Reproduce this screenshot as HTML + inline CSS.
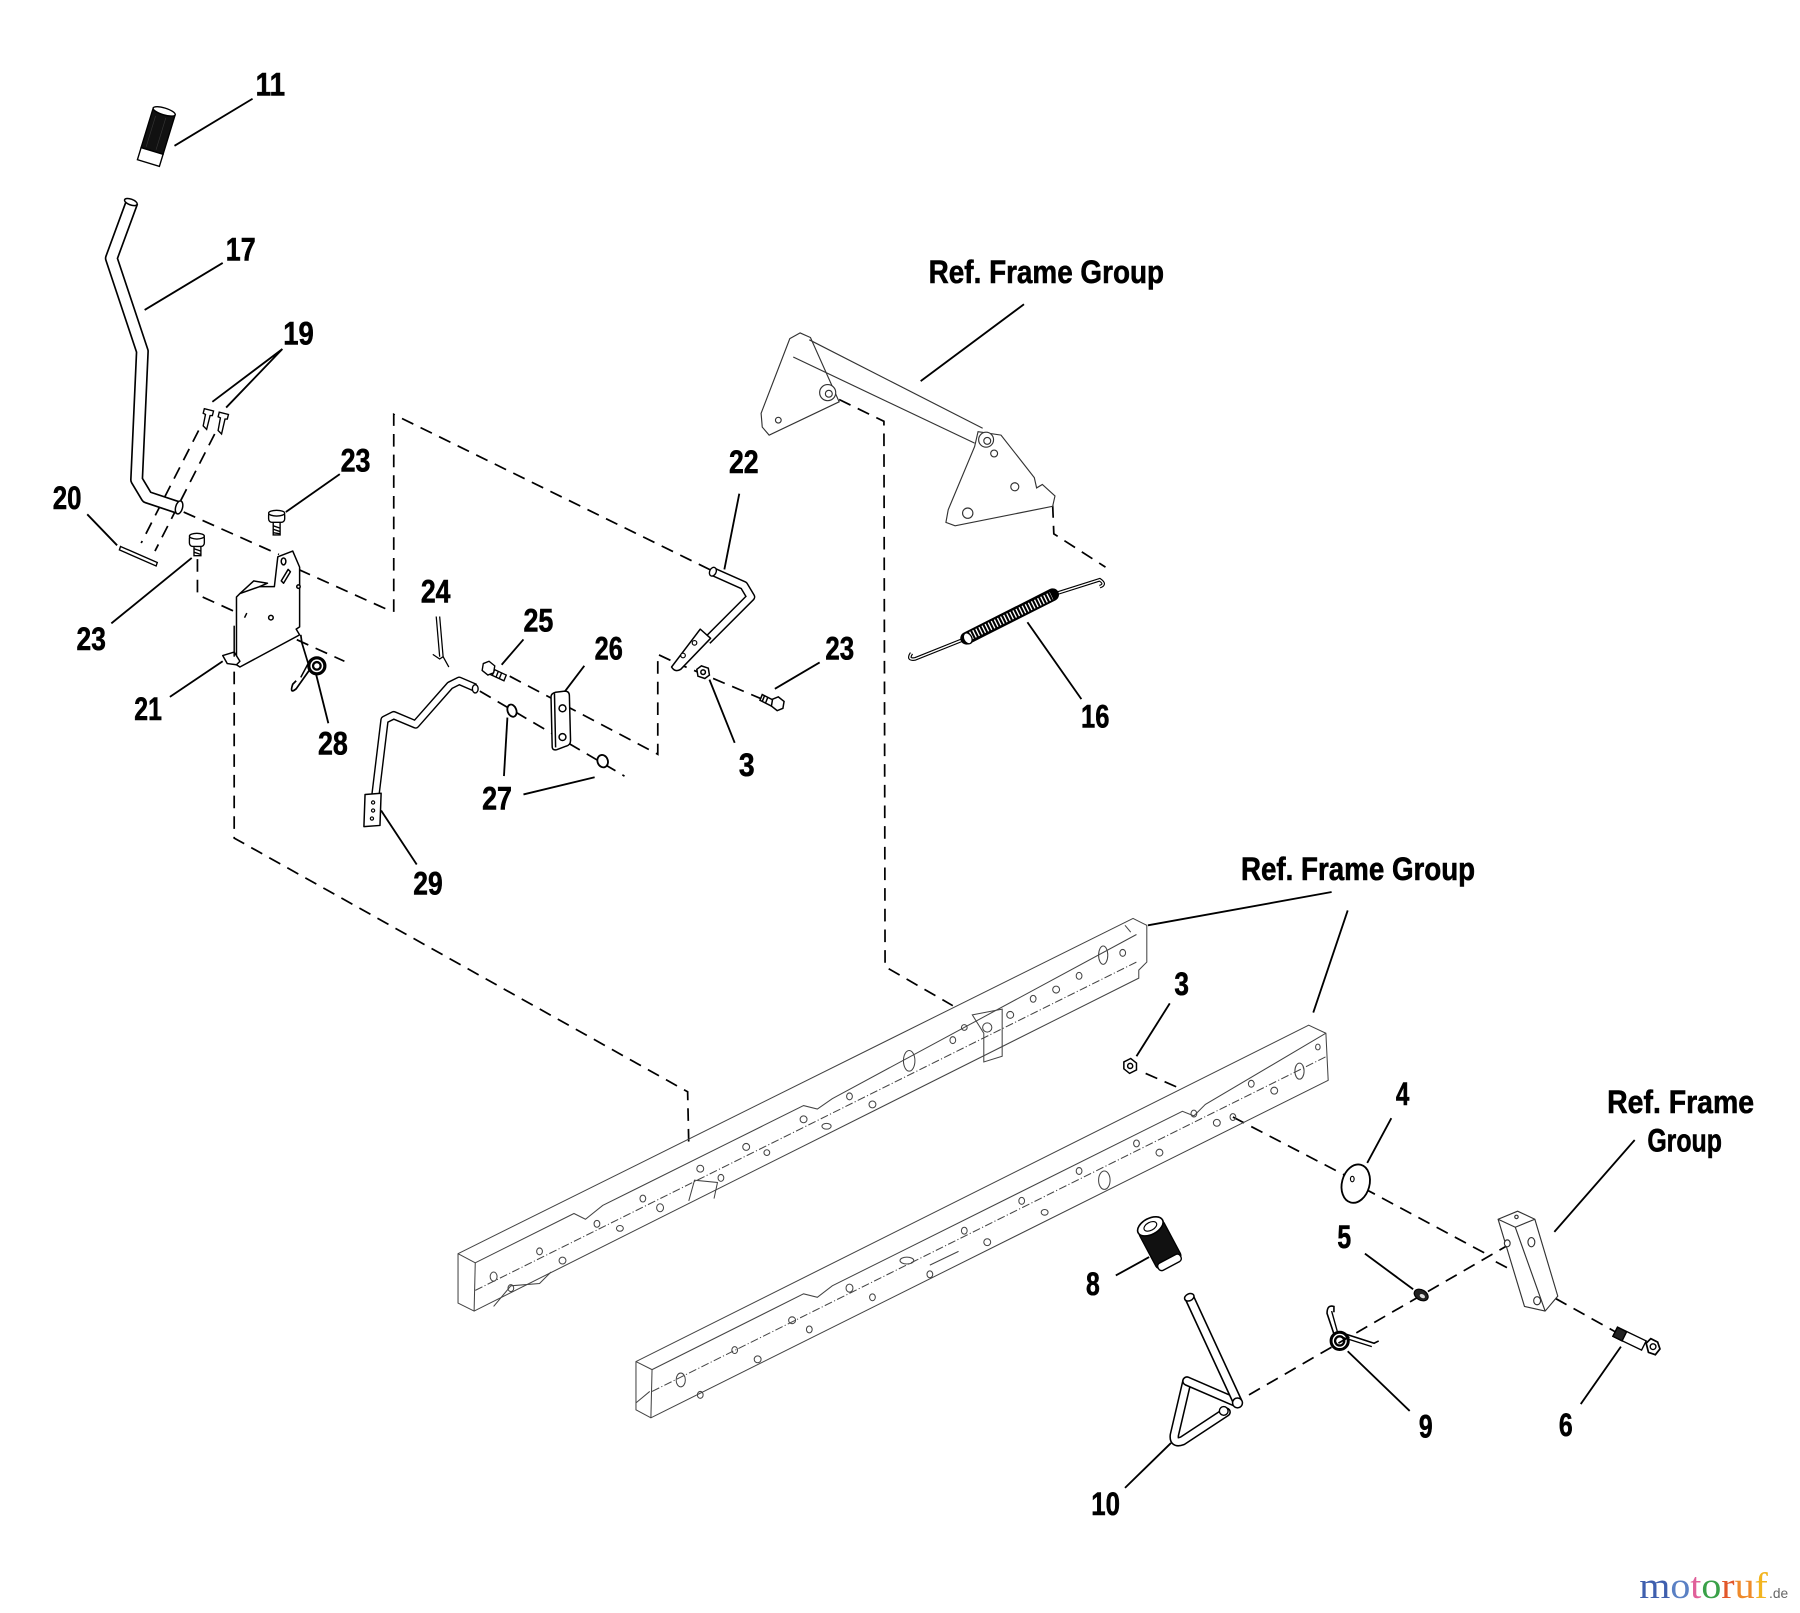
<!DOCTYPE html>
<html><head><meta charset="utf-8">
<style>
html,body{margin:0;padding:0;background:#fff;}
svg{display:block;}
.lb{font-family:"Liberation Sans",Arial,sans-serif;font-weight:bold;font-size:28px;fill:#000;stroke:#000;stroke-width:0.5px;}
</style></head><body>
<svg xmlns="http://www.w3.org/2000/svg" width="1800" height="1613" viewBox="0 0 1568 1405" preserveAspectRatio="none">
<rect x="0" y="0" width="1568" height="1405" fill="#fff"/>

<!-- ===== DASHED LINES ===== -->
<g fill="none" stroke="#000" stroke-width="1.5" stroke-dasharray="11 7">
<path d="M173,375 L123,473"/>
<path d="M187,378 L135,480"/>
<path d="M160,446 L243,483"/>
<path d="M260,496 L342,533"/>
<path d="M343,533 L343,361 L620,497"/>
<path d="M172,487 L172,518 L300,576"/>
<path d="M204,585 L204,730 L599,951 L600,997"/>
<path d="M731,348 L770,367 L771,842 L830,876"/>
<path d="M917,440 L918,465 L963,494"/>
<path d="M444,589 L573,657 L573,570 L588,577"/>
<path d="M418,602 L544,676"/>
<path d="M588,577 L664,609"/>
<path d="M998,935 L1030,949"/>
<path d="M1074,973 L1178,1027"/>
<path d="M1188,1035 L1298,1094"/>
<path d="M1088,1215 L1313,1085"/>
<path d="M1303,1099 L1318,1107"/>
<path d="M1355,1131 L1407,1160"/>
</g>

<!-- ===== LEADER LINES ===== -->
<g fill="none" stroke="#000" stroke-width="1.6">
<path d="M152,127 L220,86"/>
<path d="M126,270 L194,229"/>
<path d="M246,304 L185,350 M246,304 L197,355"/>
<path d="M76,448 L102,475"/>
<path d="M296,413 L249,446"/>
<path d="M97,543 L167,486"/>
<path d="M148,607 L194,576"/>
<path d="M275,586 L286,630"/>
<path d="M644,430 L631,496"/>
<path d="M456,557 L437,579"/>
<path d="M509,580 L490,605"/>
<path d="M439,676 L442,625"/>
<path d="M456,692 L518,677"/>
<path d="M332,706 L363,753"/>
<path d="M618,592 L640,647"/>
<path d="M714,577 L675,600"/>
<path d="M895,542 L942,609"/>
<path d="M892,265 L802,332"/>
<path d="M1160,777 L1000,806"/>
<path d="M1174,793 L1144,882"/>
<path d="M1019,874 L990,920"/>
<path d="M1212,974 L1191,1013"/>
<path d="M1189,1092 L1231,1123"/>
<path d="M972,1111 L1001,1095"/>
<path d="M1174,1177 L1228,1229"/>
<path d="M1412,1173 L1377,1223"/>
<path d="M1020,1257 L980,1296"/>
<path d="M1424,993 L1354,1073"/>
</g>

<!-- ===== FRAME RAILS ===== -->
<g fill="none" stroke="#444" stroke-width="0.9">
<path d="M399,1092 L987,800 L999,806 L999,838 L992,845 L992,852 L413,1142 L399,1135 Z"/>
<path d="M399,1092 L414,1100 L500,1057 L510,1062 L525,1050 L700,963 L712,966 L725,957 L990,814"/>
<path d="M414,1100 L413,1142"/>
<path d="M414,1124 L990,838" stroke-dasharray="7 2 1 2"/>
<path d="M430,1138 L445,1120 L470,1118 L480,1108" />
<path d="M600,1046 L605,1028 L625,1030 L622,1044"/>
<path d="M847,884 L873,879 L873,920 L857,925 L857,900 Z"/>
<path d="M980,806 L985,812" />
<path d="M554,1186 L1140,893 L1155,900 L1157,941 L567,1235 L554,1228 Z"/>
<path d="M554,1186 L568,1193 L700,1127 L712,1130 L725,1120 L1030,968 L1040,972 L1050,962 L1155,900"/>
<path d="M568,1193 L567,1235"/>
<path d="M568,1212 L1156,920" stroke-dasharray="7 2 1 2"/>
<path d="M554,1222 L566,1212"/>
<path d="M810,1102 L835,1090"/>
</g>
<g fill="none" stroke="#444" stroke-width="0.9">
<ellipse cx="430" cy="1112" rx="3" ry="4"/><ellipse cx="445" cy="1122" rx="2.5" ry="3"/>
<ellipse cx="470" cy="1090" rx="2.5" ry="3"/><ellipse cx="490" cy="1098" rx="3" ry="3"/>
<ellipse cx="520" cy="1066" rx="2.5" ry="3"/><ellipse cx="540" cy="1070" rx="3" ry="2.5"/>
<ellipse cx="560" cy="1044" rx="2.5" ry="3"/><ellipse cx="575" cy="1052" rx="3" ry="3.5"/>
<ellipse cx="610" cy="1018" rx="3" ry="3"/><ellipse cx="628" cy="1026" rx="2.5" ry="3"/>
<ellipse cx="650" cy="999" rx="3" ry="3"/><ellipse cx="668" cy="1004" rx="2.5" ry="2.5"/>
<ellipse cx="700" cy="975" rx="3" ry="3"/><ellipse cx="720" cy="981" rx="4" ry="2.5"/>
<ellipse cx="740" cy="955" rx="2.5" ry="3"/><ellipse cx="760" cy="962" rx="3" ry="3"/>
<ellipse cx="792" cy="924" rx="5" ry="9"/>
<ellipse cx="830" cy="906" rx="2.5" ry="3"/><ellipse cx="840" cy="895" rx="2.5" ry="2.5"/>
<ellipse cx="880" cy="884" rx="3" ry="3"/><ellipse cx="900" cy="870" rx="2.5" ry="3"/>
<ellipse cx="920" cy="862" rx="3" ry="3"/><ellipse cx="940" cy="850" rx="2.5" ry="3"/>
<ellipse cx="961" cy="832" rx="4" ry="8"/><ellipse cx="978" cy="830" rx="2.5" ry="3"/>
<ellipse cx="860" cy="895" rx="4" ry="4"/>
<ellipse cx="593" cy="1202" rx="4" ry="6"/><ellipse cx="610" cy="1215" rx="2.5" ry="3"/>
<ellipse cx="640" cy="1176" rx="2.5" ry="3"/><ellipse cx="660" cy="1184" rx="3" ry="3"/>
<ellipse cx="690" cy="1150" rx="3" ry="3"/><ellipse cx="705" cy="1158" rx="2.5" ry="3"/>
<ellipse cx="740" cy="1122" rx="3" ry="3.5"/><ellipse cx="760" cy="1130" rx="2.5" ry="3"/>
<ellipse cx="790" cy="1098" rx="6" ry="3"/><ellipse cx="810" cy="1110" rx="2.5" ry="3"/>
<ellipse cx="840" cy="1072" rx="2.5" ry="3"/><ellipse cx="860" cy="1082" rx="3" ry="3"/>
<ellipse cx="890" cy="1046" rx="2.5" ry="3"/><ellipse cx="910" cy="1056" rx="3" ry="2.5"/>
<ellipse cx="940" cy="1020" rx="2.5" ry="3"/>
<ellipse cx="962" cy="1028" rx="5" ry="8"/>
<ellipse cx="990" cy="996" rx="2.5" ry="3"/><ellipse cx="1010" cy="1004" rx="3" ry="3"/>
<ellipse cx="1040" cy="970" rx="2.5" ry="3"/><ellipse cx="1060" cy="978" rx="3" ry="3"/>
<ellipse cx="1074" cy="973" rx="2.5" ry="3"/>
<ellipse cx="1090" cy="944" rx="2.5" ry="3"/><ellipse cx="1110" cy="950" rx="3" ry="3"/>
<ellipse cx="1132" cy="933" rx="4" ry="7"/><ellipse cx="1148" cy="912" rx="2" ry="2.5"/>
</g>

<!-- ===== TOP FRAME BRACKET ===== -->
<g fill="#fff" stroke="#333" stroke-width="1">
<path d="M688,295 L697,290 L706,294 L731,350 L670,379 L664,372 L663,360 Z"/>
<path d="M852,376 L872,379 L901,416 L903,425 L908,422 L919,432 L917,441 L832,458 L824,455 L826,444 L849,389 Z"/>
</g>
<g fill="none" stroke="#333" stroke-width="1">
<path d="M705,296 L856,373"/>
<path d="M691,311 L849,386"/>
<circle cx="859" cy="383" r="6.5" fill="#fff"/>
<circle cx="860" cy="384" r="3"/>
<circle cx="721" cy="342" r="7" fill="#fff"/>
<circle cx="722" cy="343" r="3"/>
<circle cx="678" cy="366" r="2.5"/>
<circle cx="884" cy="424" r="3.5"/>
<circle cx="843" cy="447" r="4.5"/>
<circle cx="866" cy="395" r="3"/>
</g>

<!-- ===== SPRING 16 ===== -->
<g fill="none">
<path d="M794,569 Q790,575 797,574 L842,556" stroke="#000" stroke-width="3.2"/>
<path d="M794,569 Q790,575 797,574 L842,556" stroke="#fff" stroke-width="1.2"/>
<path d="M917,518 L958,505 Q964,509 958,511" stroke="#000" stroke-width="3.2"/>
<path d="M917,518 L958,505 Q964,509 958,511" stroke="#fff" stroke-width="1.2"/>
<path d="M842,556 L917,518" stroke="#000" stroke-width="11" stroke-linecap="round"/>
<path d="M843,555 L916,519" stroke="#fff" stroke-width="7" stroke-dasharray="1.2 1.8"/>
<ellipse cx="843" cy="556" rx="3.5" ry="5" fill="#fff" stroke="#000" stroke-width="1.2" transform="rotate(-27 843 556)"/>
</g>

<!-- ===== LEVER 17 ===== -->
<g fill="none" stroke-linejoin="round">
<path d="M115,176 L97,225 L124,306 L119,418 L128,433 L155,442" stroke="#000" stroke-width="11.5"/>
<path d="M115,176 L97,225 L124,306 L119,418 L128,433 L155,442" stroke="#fff" stroke-width="8.6"/>
<ellipse cx="114" cy="176" rx="5.8" ry="2.5" fill="#fff" stroke="#000" stroke-width="1.3" transform="rotate(20 114 176)"/>
<ellipse cx="156" cy="442" rx="3" ry="5.8" fill="#fff" stroke="#000" stroke-width="1.3" transform="rotate(15 156 442)"/>
</g>

<!-- ===== GRIP 11 ===== -->
<g transform="translate(136,120) rotate(17)">
<rect x="-10" y="-24" width="20" height="36" fill="#111" stroke="#000" stroke-width="1.2"/>
<rect x="-10" y="12" width="20" height="11" fill="#fff" stroke="#000" stroke-width="1.2"/>
<ellipse cx="0" cy="-24" rx="10" ry="3" fill="#fff" stroke="#000" stroke-width="1.2"/>
<path d="M-6,-18 L-6,10 M3,-19 L3,10" stroke="#333" stroke-width="0.6"/>
</g>

<!-- ===== PINS 19, ROD 20 ===== -->
<g fill="#fff" stroke="#000" stroke-width="1.2">
<path d="M178,356 L186,358 L185,362 L183,362 L180,374 L177,371 L179,361 L177,360 Z"/>
<path d="M191,359 L199,361 L198,365 L196,365 L193,378 L190,375 L192,364 L190,363 Z"/>
<path d="M105,476 L137,490 L136,493 L104,479 Z"/>
</g>

<!-- ===== BOLTS 23 ===== -->
<g stroke="#000" stroke-width="1.2" fill="#fff">
<path d="M238,455 L238,466 L244,466 L244,455"/>
<path d="M238,458 L244,460 M238,461 L244,463 M238,464 L244,465" fill="none"/>
<rect x="234" y="446" width="14" height="9" rx="3"/>
<ellipse cx="241" cy="447" rx="7" ry="2.5"/>
<path d="M169,476 L169,484 L175,484 L175,476"/>
<path d="M169,478 L175,480 M169,481 L175,483" fill="none"/>
<rect x="165" y="466" width="13" height="10" rx="3"/>
<ellipse cx="171.5" cy="467" rx="6.5" ry="2.5"/>
</g>

<!-- ===== BRACKET 21 ===== -->
<g fill="#fff" stroke="#000" stroke-width="1.3" stroke-linejoin="round">
<path d="M206,520 L209,517 L226,511 L239,511 L242,485 L255,480 L261,494 L261,546 L258,548 L261,553 L209,581 L206,579 Z"/>
<path d="M209,517 L221,506 L233,508 L226,511" fill="none"/>
<path d="M194,571 L204,568 L209,576 L206,579 L198,578 Z"/>
<path d="M204,545 L204,572" fill="none"/>
<ellipse cx="247" cy="489" rx="2" ry="3"/>
<path d="M245,506 L251,496 L253,498 L247,508 Z"/>
<circle cx="236" cy="538" r="2"/>
<path d="M215,534 L213,538" fill="none"/>
<circle cx="260" cy="511" r="1.5"/>
</g>

<!-- ===== SPRING 28 ===== -->
<g fill="none" stroke="#000">
<path d="M262,553 L263,560 L270,583 L258,600 Q252,605 255,596 L258,593" stroke-width="1.5"/>
<circle cx="276" cy="580" r="7" stroke-width="2.8"/>
<circle cx="276" cy="580" r="3.3" stroke-width="2"/>
<path d="M270,575 L262,590" stroke-width="1.3"/>
</g>

<!-- ===== PART 24 cotter ===== -->
<g fill="none" stroke="#000" stroke-width="1.1">
<path d="M380,537 L383,572 M383,537 L386,572"/>
<path d="M377,570 L383,574 L386,572 L391,581"/>
</g>

<!-- ===== BOLT 25 ===== -->
<g stroke="#000" stroke-width="1.2" fill="#fff">
<path d="M428,582 L441,588 L439,593 L426,587 Z"/>
<path d="M431,583 L429,588 M434,585 L432,590 M437,586 L435,591" fill="none"/>
<path d="M421,578 L426,576 L431,580 L430,586 L425,588 L420,584 Z"/>
</g>

<!-- ===== PLATE 26 ===== -->
<g fill="#fff" stroke="#000" stroke-width="1.3" stroke-linejoin="round">
<path d="M480,607 Q480,604 484,603 L492,602 Q496,602 496,606 L497,645 Q497,649 493,650 L485,653 Q481,654 481,650 Z"/>
<path d="M483,604 L484,651" fill="none"/>
<circle cx="490" cy="617" r="3"/>
<circle cx="490" cy="642" r="3"/>
</g>

<!-- ===== WASHERS 27 ===== -->
<g fill="#fff" stroke="#000" stroke-width="1.6">
<ellipse cx="446" cy="619" rx="3.8" ry="5.5" transform="rotate(-20 446 619)"/>
<ellipse cx="525" cy="663" rx="4.5" ry="5.5" transform="rotate(-20 525 663)"/>
</g>

<!-- ===== ROD 29 ===== -->
<g fill="none" stroke-linejoin="round">
<path d="M414,599 L400,593 L392,597 L362,631 L343,623 L335,627 L327,693" stroke="#000" stroke-width="7.5"/>
<path d="M414,599 L400,593 L392,597 L362,631 L343,623 L335,627 L327,693" stroke="#fff" stroke-width="5"/>
<ellipse cx="414" cy="600" rx="2.5" ry="3.6" fill="#fff" stroke="#000" stroke-width="1.2"/>
<path d="M318,692 L332,691 L331,719 L317,720 Z" fill="#fff" stroke="#000" stroke-width="1.3"/>
<circle cx="325" cy="699" r="1.4" fill="#fff" stroke="#000"/>
<circle cx="325" cy="706" r="1.4" fill="#fff" stroke="#000"/>
<circle cx="324" cy="713" r="1.4" fill="#fff" stroke="#000"/>
</g>

<!-- ===== ROD 22 ===== -->
<g fill="none" stroke-linejoin="round">
<path d="M621,498 L648,510 L654,520 L616,558" stroke="#000" stroke-width="8"/>
<path d="M621,498 L648,510 L654,520 L616,558" stroke="#fff" stroke-width="5.4"/>
<ellipse cx="621" cy="498" rx="2.8" ry="4" fill="#fff" stroke="#000" stroke-width="1.2" transform="rotate(25 621 498)"/>
<path d="M610,548 L619,556 L593,583 Q588,586 585,581 Z" fill="#fff" stroke="#000" stroke-width="1.3"/>
<circle cx="605" cy="560" r="2" fill="#fff" stroke="#000"/>
<circle cx="595" cy="571" r="2" fill="#fff" stroke="#000"/>
</g>

<!-- ===== NUT 3 upper, BOLT 23 right ===== -->
<g stroke="#000" stroke-width="1.3" fill="#fff">
<path d="M607,583 L611,580 L617,582 L618,588 L614,591 L608,589 Z"/>
<circle cx="612.5" cy="585.5" r="2"/>
<path d="M664,605 L674,610 L672,615 L662,610 Z"/>
<path d="M666,606 L664,611 M669,607 L667,612" fill="none"/>
<path d="M673,609 L678,607 L683,611 L682,617 L677,619 L672,615 Z"/>
</g>

<!-- ===== NUT 3 lower ===== -->
<g stroke="#000" stroke-width="1.3" fill="#fff">
<path d="M979,925 L985,922 L990,926 L990,932 L984,935 L979,931 Z"/>
<circle cx="984.5" cy="928.5" r="2.2"/>
</g>

<!-- ===== WASHER 4 ===== -->
<ellipse cx="1181" cy="1031" rx="12" ry="17" transform="rotate(15 1181 1031)" fill="#fff" stroke="#000" stroke-width="1.6"/>
<ellipse cx="1178" cy="1027" rx="1.6" ry="2.4" fill="#fff" stroke="#000" stroke-width="1"/>

<!-- ===== WASHER 5 ===== -->
<ellipse cx="1238" cy="1128" rx="6.5" ry="4.5" transform="rotate(30 1238 1128)" fill="#222" stroke="#000" stroke-width="1"/>
<ellipse cx="1239" cy="1129" rx="2.5" ry="1.6" transform="rotate(30 1239 1129)" fill="#ddd"/>

<!-- ===== SPRING 9 ===== -->
<g fill="none" stroke="#000">
<path d="M1162,1162 L1156,1144 Q1156,1136 1162,1138 L1162,1143" stroke-width="1.4"/>
<path d="M1165,1160 L1160,1142" stroke-width="1.2"/>
<path d="M1172,1162 L1197,1170 L1201,1168" stroke-width="1.4"/>
<path d="M1170,1165 L1195,1173" stroke-width="1.2"/>
<circle cx="1167" cy="1168" r="7.5" stroke-width="2.6"/>
<circle cx="1167" cy="1168" r="4" stroke-width="2"/>
</g>

<!-- ===== REF FRAME BRACKET (right) ===== -->
<g fill="#fff" stroke="#333" stroke-width="1" stroke-linejoin="round">
<path d="M1305,1062 L1322,1055 L1337,1062 L1357,1129 L1346,1142 L1328,1138 Z"/>
<path d="M1305,1062 L1320,1069 L1337,1062 M1320,1069 L1346,1142" fill="none"/>
<ellipse cx="1313" cy="1083" rx="2.5" ry="3"/>
<ellipse cx="1334" cy="1082" rx="3" ry="4"/>
<ellipse cx="1339" cy="1133" rx="3" ry="3.5"/>
<circle cx="1321" cy="1060" r="1.5"/>
</g>

<!-- ===== BOLT 6 ===== -->
<g stroke="#000" stroke-width="1.2">
<path d="M1409,1156 L1434,1168 L1430,1176 L1405,1164 Z" fill="#fff"/>
<path d="M1405,1164 L1409,1156 L1417,1160 L1413,1168 Z" fill="#222"/>
<path d="M1434,1170 L1438,1166 L1444,1169 L1446,1175 L1442,1180 L1436,1178 Z" fill="#fff" stroke-width="1.5"/>
<circle cx="1440" cy="1173" r="2.5" fill="none"/>
</g>

<!-- ===== GRIP 8 ===== -->
<g transform="translate(1011,1085) rotate(-28)">
<rect x="-12" y="-20" width="24" height="38" rx="4" fill="#111" stroke="#000" stroke-width="1.2"/>
<rect x="-11" y="13" width="22" height="7" rx="3" fill="#fff" stroke="#000" stroke-width="1.2"/>
<ellipse cx="0" cy="-19" rx="12" ry="7" fill="#fff" stroke="#000" stroke-width="1.4"/>
<ellipse cx="0" cy="-19" rx="6" ry="3.5" fill="none" stroke="#000" stroke-width="1"/>
</g>

<!-- ===== PEDAL ROD 10 ===== -->
<g fill="none" stroke-linejoin="round" stroke-linecap="round">
<path d="M1034,1203 L1023,1250 Q1022,1258 1030,1255 L1068,1230" stroke="#000" stroke-width="8.5"/>
<path d="M1034,1203 L1023,1250 Q1022,1258 1030,1255 L1068,1230" stroke="#fff" stroke-width="5.8"/>
<path d="M1078,1222 L1034,1203" stroke="#000" stroke-width="8.5"/>
<path d="M1078,1222 L1034,1203" stroke="#fff" stroke-width="5.8"/>
<path d="M1036,1130 L1078,1221" stroke="#000" stroke-width="9" stroke-linecap="butt"/>
<path d="M1036,1130 L1078,1221" stroke="#fff" stroke-width="6.2" stroke-linecap="butt"/>
<ellipse cx="1036" cy="1130" rx="4.3" ry="3" fill="#fff" stroke="#000" stroke-width="1.3" transform="rotate(-25 1036 1130)"/>
<circle cx="1078" cy="1222" r="4.3" fill="#fff" stroke="#000" stroke-width="1.3"/>
<circle cx="1066" cy="1229" r="3.8" fill="#fff" stroke="#000" stroke-width="1.2"/>
</g>

<!-- ===== LABELS ===== -->
<g>
<text class="lb" x="222.7" y="83.3" textLength="25.6" lengthAdjust="spacingAndGlyphs">11</text>
<text class="lb" x="196.7" y="226.7" textLength="26" lengthAdjust="spacingAndGlyphs">17</text>
<text class="lb" x="246.7" y="300" textLength="26.6" lengthAdjust="spacingAndGlyphs">19</text>
<text class="lb" x="46" y="443.3" textLength="25" lengthAdjust="spacingAndGlyphs">20</text>
<text class="lb" x="296.7" y="410.7" textLength="26" lengthAdjust="spacingAndGlyphs">23</text>
<text class="lb" x="635" y="412" textLength="25.8" lengthAdjust="spacingAndGlyphs">22</text>
<text class="lb" x="66.7" y="566" textLength="25.5" lengthAdjust="spacingAndGlyphs">23</text>
<text class="lb" x="366.6" y="524.7" textLength="25.8" lengthAdjust="spacingAndGlyphs">24</text>
<text class="lb" x="456" y="550" textLength="26" lengthAdjust="spacingAndGlyphs">25</text>
<text class="lb" x="518" y="574.6" textLength="24.5" lengthAdjust="spacingAndGlyphs">26</text>
<text class="lb" x="719" y="574.4" textLength="25" lengthAdjust="spacingAndGlyphs">23</text>
<text class="lb" x="117" y="627" textLength="24" lengthAdjust="spacingAndGlyphs">21</text>
<text class="lb" x="277" y="657" textLength="26" lengthAdjust="spacingAndGlyphs">28</text>
<text class="lb" x="643.6" y="676" textLength="13.7" lengthAdjust="spacingAndGlyphs">3</text>
<text class="lb" x="420" y="705" textLength="26" lengthAdjust="spacingAndGlyphs">27</text>
<text class="lb" x="360" y="779" textLength="25.6" lengthAdjust="spacingAndGlyphs">29</text>
<text class="lb" x="941.7" y="633.9" textLength="24.7" lengthAdjust="spacingAndGlyphs">16</text>
<text class="lb" x="1023" y="866.5" textLength="12.7" lengthAdjust="spacingAndGlyphs">3</text>
<text class="lb" x="1216" y="962.5" textLength="11.7" lengthAdjust="spacingAndGlyphs">4</text>
<text class="lb" x="1165" y="1087" textLength="12" lengthAdjust="spacingAndGlyphs">5</text>
<text class="lb" x="946" y="1128" textLength="12" lengthAdjust="spacingAndGlyphs">8</text>
<text class="lb" x="1236" y="1252" textLength="12" lengthAdjust="spacingAndGlyphs">9</text>
<text class="lb" x="1358" y="1251" textLength="12" lengthAdjust="spacingAndGlyphs">6</text>
<text class="lb" x="950.6" y="1319.5" textLength="25" lengthAdjust="spacingAndGlyphs">10</text>
<text class="lb" x="809" y="246.5" textLength="205" lengthAdjust="spacingAndGlyphs">Ref. Frame Group</text>
<text class="lb" x="1081" y="766.5" textLength="204" lengthAdjust="spacingAndGlyphs">Ref. Frame Group</text>
<text class="lb" x="1400" y="969.7" textLength="128" lengthAdjust="spacingAndGlyphs">Ref. Frame</text>
<text class="lb" x="1435" y="1003" textLength="65" lengthAdjust="spacingAndGlyphs">Group</text>
</g>

<!-- ===== WATERMARK ===== -->
<text x="1428" y="1392" font-family="'Liberation Serif',serif" font-size="32" textLength="112" lengthAdjust="spacingAndGlyphs"><tspan fill="#3f5fae">m</tspan><tspan fill="#5a80c4">o</tspan><tspan fill="#e0609a">t</tspan><tspan fill="#3aa048">o</tspan><tspan fill="#e2572b">r</tspan><tspan fill="#ef8a2a">u</tspan><tspan fill="#f2b41f">f</tspan></text>
<text x="1541" y="1392" font-family="'Liberation Sans',sans-serif" font-size="12" fill="#666">.de</text>
</svg>
</body></html>
